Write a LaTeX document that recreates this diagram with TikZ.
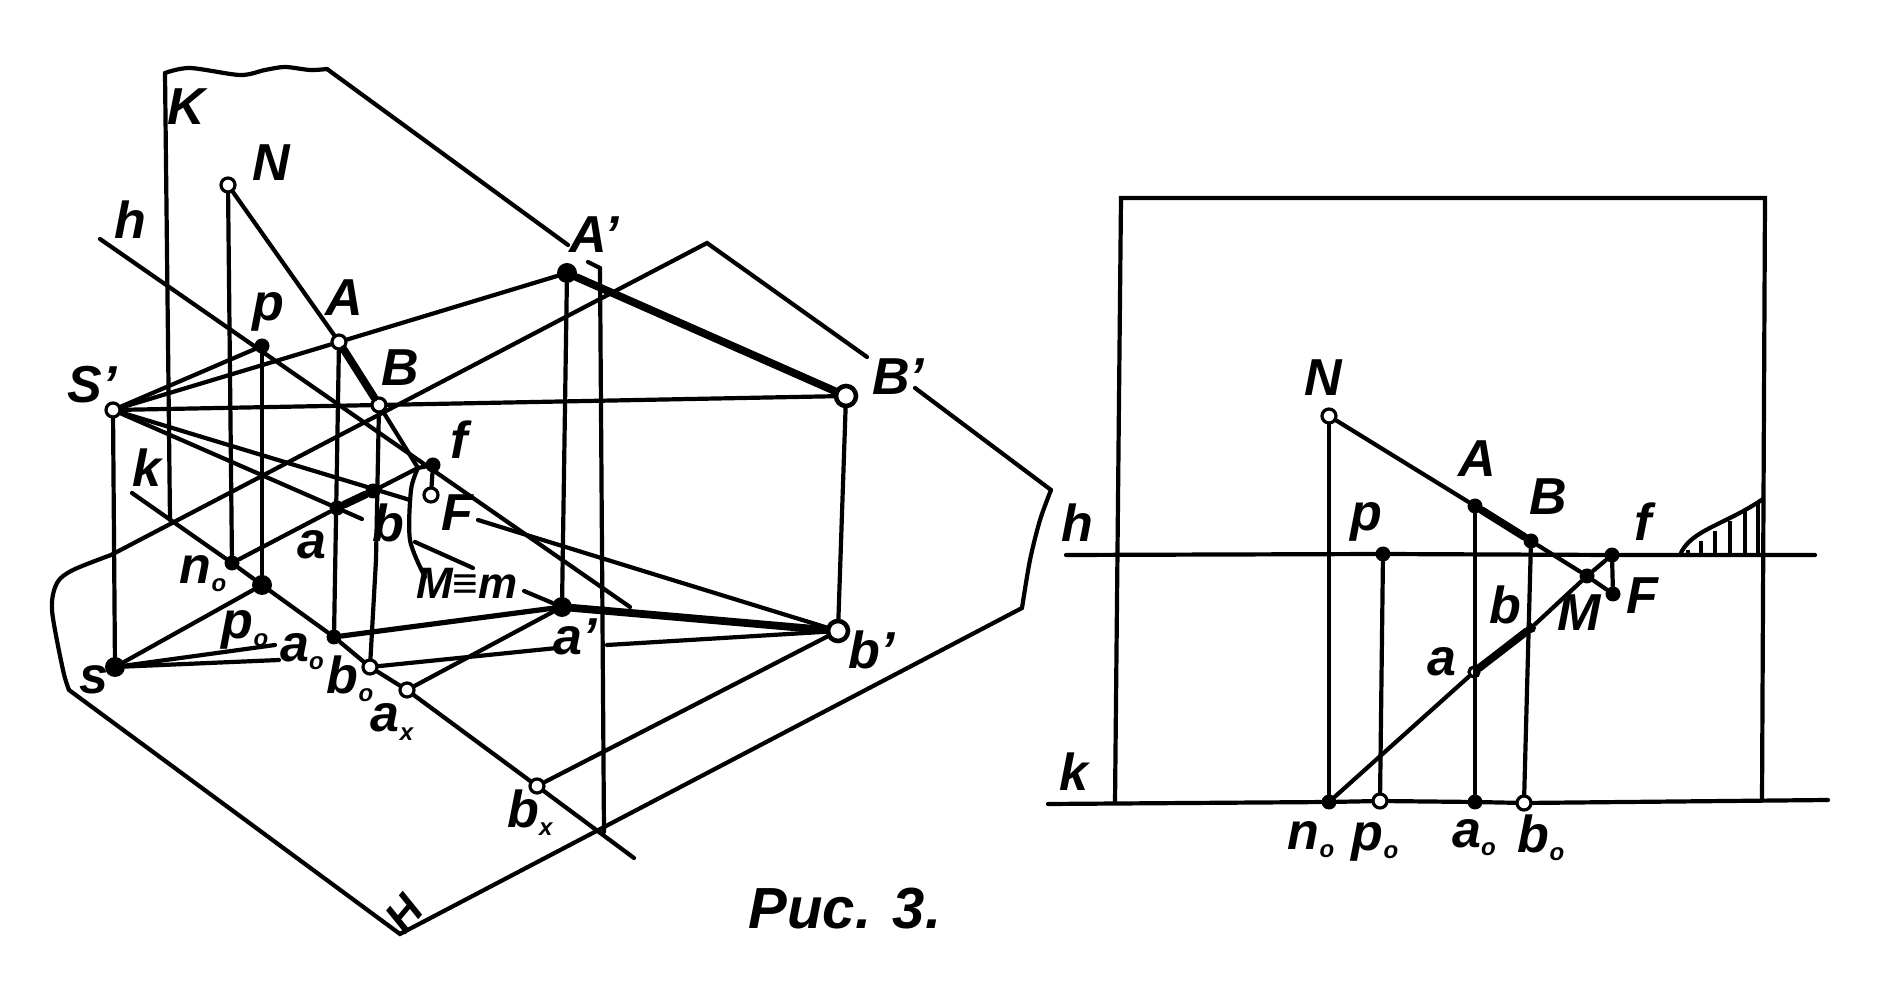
\documentclass[tikz,border=0pt]{standalone}
\usepackage{fontspec}
\setmainfont{Liberation Sans}
\newcommand{\zs}{\raisebox{-0.3ex}{\fontsize{12}{12}\selectfont o}}
\newcommand{\zx}{\raisebox{-0.3ex}{\fontsize{12}{12}\selectfont x}}
\tikzset{
  openpt/.style={circle,draw,fill=white,line width=1.6pt,inner sep=0pt,minimum size=7pt},
  bigpt/.style={openpt,line width=2.3pt,minimum size=10pt},
  fillpt/.style={circle,fill=black,inner sep=0pt,minimum size=7.5pt},
  thinline/.style={line width=2.1pt,line cap=round},
  boldline/.style={line width=3.9pt,line cap=round},
  lbl/.style={font=\bfseries\itshape\fontsize{26}{26}\selectfont,inner sep=0pt},
}
\begin{document}
\begin{tikzpicture}[x=0.5pt,y=-0.5pt]
    \useasboundingbox (0,0) rectangle (1891,999);

    % Points, left
    \node[openpt] (N) at (228,185) {};
    \node[openpt] (A) at (339,342) {};
    \node[openpt] (B) at (379,405) {};
    \node[openpt] (Sp) at (113,410) {};
    \node[fillpt] (P) at (262,346) {};
    \node[fillpt] (f) at (433,465) {};
    \node[openpt] (F) at (431,495) {};
    \node[fillpt] (a) at (337,508) {};
    \node[fillpt] (b) at (373,491) {};
    \node[fillpt] (no) at (232,563) {};
    \node[fillpt,minimum size=10pt] (po) at (262,585) {};
    \node[fillpt] (ao) at (334,637) {};
    \node[openpt] (bo) at (370,667) {};
    \node[openpt] (ax) at (407,690) {};
    \node[openpt] (bx) at (537,786) {};
    \node[fillpt,minimum size=10pt] (s) at (115,667) {};
    \node[fillpt,minimum size=10pt] (Ap) at (567,273) {};
    \node[bigpt] (Bp) at (846,396) {};
    \node[fillpt,minimum size=10pt] (ap) at (562,607) {};
    \node[bigpt] (bp) at (838,631) {};

    % Free ends, left
    \coordinate (hl) at (100,239);
    \coordinate (hr) at (630,607);
    \coordinate (kl) at (132,493);
    \coordinate (kr) at (634,858);
    \coordinate (Mm) at (418,468);
    \coordinate (Kt) at (165,73);
    \coordinate (Kb) at (170,520);
    \coordinate (Ke) at (327,69);
    \coordinate (Kf) at (568,245);
    \coordinate (Vt) at (600,268);
    \coordinate (Vb) at (604,832);
    \coordinate (Ha) at (111,555);
    \coordinate (Hb) at (707,243);
    \coordinate (Hc) at (867,357);
    \coordinate (Hd) at (915,388);
    \coordinate (He) at (1051,490);
    \coordinate (Hf) at (1022,608);
    \coordinate (Hg) at (400,934);
    \coordinate (Hh) at (69,690);

    % Plane K
    \draw[thinline] (Kb) -- (Kt);
    \draw[thinline] plot[smooth] coordinates {(Kt) (190,68) (240,75) (265,70) (285,67) (310,70) (Ke)};
    \draw[thinline] (Ke) -- (Kf);

    % Plane H
    \draw[thinline] (Ha) -- (Hb) -- (Hc);
    \draw[thinline] (Hd) -- (He);
    \draw[thinline] plot[smooth] coordinates {(He) (1040,520) (1030,560) (Hf)};
    \draw[thinline] (Hf) -- (Hg) -- (Hh);
    \draw[thinline] plot[smooth] coordinates {(Hh) (63,670) (52,610) (57,583) (73,570) (Ha)};

    % Traces
    \draw[thinline] (hl) -- (hr);
    \draw[thinline] (kl) -- (no) -- (po) -- (ao) -- (bo) -- (ax) -- (bx) -- (kr);
    \draw[thinline] (Vt) -- (Vb);
    \draw[thinline] (Vt) -- (588,262);

    % Verticals
    \draw[thinline] (N) -- (no);
    \draw[thinline] (P) -- (po);
    \draw[thinline] (A) -- (ao);
    \draw[thinline] (B) -- (376,560) -- (bo);
    \draw[thinline] (Sp) -- (s);
    \draw[thinline] (Ap) -- (ap);
    \draw[thinline] (Bp) -- (bp);

    % Rays from S'
    \draw[thinline] (Sp) -- (P);
    \draw[thinline] (Sp) -- (A) -- (Ap);
    \draw[thinline] (Sp) -- (B) -- (Bp);
    \draw[thinline] (Sp) -- (a) -- (362,519);
    \draw[thinline] (415,542) -- (473,568);
    \draw[thinline] (524,591) -- (ap);
    \draw[thinline] (Sp) -- (410,500);
    \draw[thinline] (478,520) -- (bp);

    % Rays from s
    \draw[thinline] (s) -- (po);
    \draw[thinline] (s) -- (275,645);
    \draw[thinline] (s) -- (279,660);
    \draw[thinline] (bo) -- (557,648);
    \draw[thinline] (607,645) -- (bp);
    \draw[thinline,line width=2.6pt] (ao) -- (ap);

    % Line N-M and its projection
    \draw[thinline] (N) -- (A);
    \draw[boldline] (A) -- (B);
    \draw[thinline] (B) -- (Mm);
    \draw[thinline] (no) -- (a);
    \draw[boldline] (a) -- (b);
    \draw[thinline] (b) -- (Mm);
    \draw[thinline] (Mm) -- (f) -- (F);
    \draw[boldline] (Ap) -- (Bp);
    \draw[boldline] (ap) -- (bp);
    \draw[thinline] (ap) -- (ax);
    \draw[thinline] (bp) -- (bx);

    % Leader of M=m
    \draw[thinline] plot[smooth] coordinates {(Mm) (411,490) (410,540) (425,577)};

    % Nodes, left
    \node[lbl] (lK) at (186,107) {K};
    \node[lbl] (lN) at (271,163) {N};
    \node[lbl] (lh) at (130,220) {h};
    \node[lbl] (lP) at (268,312) {p};
    \node[lbl] (lA) at (344,298) {A};
    \node[lbl] (lB) at (400,368) {B};
    \node[lbl] (lS) at (92,385) {S'};
    \node[lbl] (lk) at (147,468) {k};
    \node[lbl] (lf) at (459,440) {f};
    \node[lbl] (lF) at (457,513) {F};
    \node[lbl] (lb) at (388,523) {b};
    \node[lbl] (la) at (312,545) {a};
    \node[lbl] (lno) at (203,574) {n\zs};
    \node[lbl] (lpo) at (245,630) {p\zs};
    \node[lbl] (lao) at (302,652) {a\zs};
    \node[lbl] (lbo) at (350,679) {b\zs};
    \node[lbl] (lax) at (392,722) {a\zx};
    \node[lbl] (lbx) at (530,813) {b\zx};
    \node[lbl] (ls) at (94,680) {s};
    \node[lbl,font=\bfseries\itshape\fontsize{22}{22}\selectfont] (lM) at (467,583) {M≡m};
    \node[lbl] (lap) at (575,637) {a'};
    \node[lbl] (lAp) at (594,235) {A'};
    \node[lbl] (lBp) at (898,377) {B'};
    \node[lbl] (lbp) at (872,650) {b'};
    \node[lbl,rotate=50,font=\bfseries\itshape\fontsize{22}{22}\selectfont] (lH) at (404,914) {H};

    % Points, right
    \node[openpt] (Nr) at (1329,416) {};
    \node[fillpt] (Ar) at (1475,506) {};
    \node[fillpt] (Br) at (1531,541) {};
    \node[fillpt] (Pr) at (1383,554) {};
    \node[fillpt] (fr) at (1612,555) {};
    \node[fillpt] (Fr) at (1613,594) {};
    \node[fillpt] (Mr) at (1587,576) {};
    \node[openpt,minimum size=5pt] (ar) at (1474,672) {};
    \node[fillpt,minimum size=5pt] (br) at (1531,628) {};
    \node[fillpt] (nr) at (1329,802) {};
    \node[openpt] (pr) at (1380,801) {};
    \node[fillpt] (aor) at (1475,802) {};
    \node[openpt] (bor) at (1524,803) {};

    % Frame and traces, right
    \coordinate (Rtl) at (1121,198);
    \coordinate (Rtr) at (1765,198);
    \coordinate (Rbl) at (1115,803);
    \coordinate (Rbr) at (1762,800);
    \coordinate (hrl) at (1066,555);
    \coordinate (hrr) at (1815,555);
    \coordinate (krl) at (1048,804);
    \coordinate (krr) at (1828,800);
    \draw[thinline] (Rbl) -- (Rtl) -- (Rtr) -- (Rbr);
    \draw[thinline] (hrl) -- (Pr) -- (fr) -- (hrr);
    \draw[thinline] (krl) -- (nr) -- (pr) -- (aor) -- (bor) -- (krr);

    % Projections, right
    \draw[thinline] (Nr) -- (nr);
    \draw[thinline] (Pr) -- (pr);
    \draw[thinline] (Ar) -- (aor);
    \draw[thinline] (Br) -- (bor);
    \draw[thinline] (Nr) -- (Ar);
    \draw[boldline] (Ar) -- (Br);
    \draw[thinline] (Br) -- (Mr);
    \draw[thinline] (nr) -- (ar);
    \draw[boldline] (ar) -- (br);
    \draw[thinline] (br) -- (Mr);
    \draw[thinline] (Mr) -- (fr) -- (Fr) -- (Mr);

    % Hatching
    \draw[thinline] (1680,555) .. controls (1690,530) and (1725,525) .. (1763,499);
    \foreach \hx in {1688,1701,1715,1730,1745,1758}
      \draw[line width=2pt] (\hx,555) -- (\hx,{555-(\hx-1680)*0.68});

    % Nodes, right
    \node[lbl] (rN) at (1323,378) {N};
    \node[lbl] (rA) at (1477,459) {A};
    \node[lbl] (rB) at (1548,497) {B};
    \node[lbl] (rP) at (1366,522) {p};
    \node[lbl] (rh) at (1077,523) {h};
    \node[lbl] (rf) at (1643,522) {f};
    \node[lbl] (rF) at (1642,596) {F};
    \node[lbl] (rM) at (1579,613) {M};
    \node[lbl] (rb) at (1505,605) {b};
    \node[lbl] (ra) at (1442,662) {a};
    \node[lbl] (rk) at (1074,772) {k};
    \node[lbl] (rno) at (1311,840) {n\zs};
    \node[lbl] (rpo) at (1375,842) {p\zs};
    \node[lbl] (rao) at (1474,838) {a\zs};
    \node[lbl] (rbo) at (1541,838) {b\zs};

    % Caption
    \node[lbl,font=\bfseries\itshape\fontsize{29}{29}\selectfont] (cap) at (845,909) {Рис. 3.};
\end{tikzpicture}
\end{document}
